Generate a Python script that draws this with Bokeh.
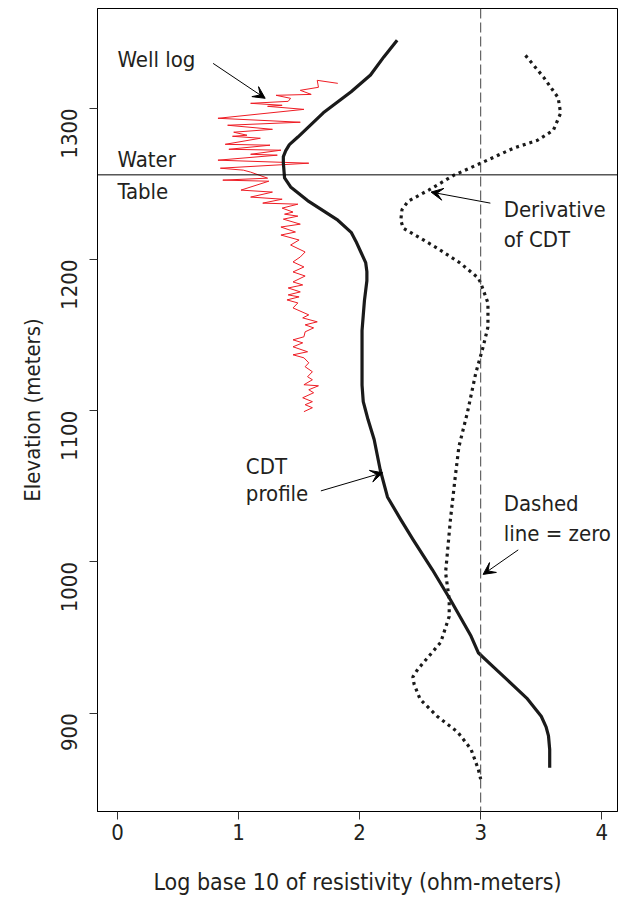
from bokeh.plotting import figure
from bokeh.models import Span, Arrow, VeeHead, Range1d, FixedTicker, ColumnDataSource
from bokeh.core.properties import value
from bokeh.embed import file_html
from bokeh.resources import INLINE
import math

FONT = "DejaVu Sans Condensed"
TXT = "#231f20"

# CDT profile (log10 resistivity vs elevation)
cdt_res = [2.31, 2.20, 2.09, 1.93, 1.70, 1.49, 1.42, 1.39, 1.37, 1.37, 1.38, 1.43,
           1.57, 1.82, 1.93, 1.97, 2.01, 2.05, 2.06, 2.06, 2.04, 2.03, 2.02, 2.02,
           2.03, 2.05, 2.07, 2.12, 2.17, 2.23, 2.34, 2.44, 2.60, 2.75, 2.92, 2.98,
           3.10, 3.22, 3.38, 3.50, 3.54, 3.56, 3.57, 3.57]
cdt_elev = [1345, 1334, 1322, 1311, 1297, 1281, 1276, 1272, 1268, 1264, 1254, 1248,
            1239, 1226, 1218, 1212, 1205, 1198, 1192, 1186, 1173, 1163, 1153, 1117,
            1106, 1100, 1094, 1081, 1061, 1043, 1028, 1015, 995, 975, 951, 940,
            931, 922, 910, 898, 891, 885, 876, 864]

# Derivative of CDT (dotted)
der_val = [3.37, 3.52, 3.64, 3.66, 3.60, 3.47, 3.27, 3.00, 2.78, 2.57, 2.40, 2.35, 2.34,
           2.36, 2.64, 2.83, 2.98, 3.00, 3.06, 3.06, 3.02, 2.96, 2.89, 2.82, 2.79,
           2.75, 2.71, 2.74, 2.74, 2.67, 2.48, 2.44, 2.45, 2.50, 2.64, 2.81, 2.92, 2.98, 3.00]
der_elev = [1335, 1320.5, 1307, 1296.7, 1285.5, 1278.9, 1273.6, 1263.7, 1255.8, 1245.9,
            1238.5, 1233, 1226, 1220.8, 1207.6, 1197.7, 1187.8, 1184.5, 1171.3, 1155.4,
            1142.2, 1125.1, 1098.7, 1076.2, 1056.4, 1028, 993, 975.2, 964, 946.9, 929,
            924, 919.2, 909.2, 898, 887.5, 876.2, 863, 856.4]

# Well log (red)
well_res = [1.82, 1.65, 1.66, 1.51, 1.60, 1.31, 1.43, 1.41, 1.10, 1.36, 1.24, 1.54,
            0.83, 1.51, 0.91, 1.28, 0.96, 1.07, 0.95, 1.18, 0.89, 1.26, 0.92, 1.35,
            1.10, 1.32, 0.83, 1.58, 0.85, 1.04, 1.10, 1.24, 0.87, 1.25, 1.02, 1.28,
            1.10, 1.36, 1.20, 1.49, 1.36, 1.45, 1.38, 1.49, 1.37, 1.51, 1.35, 1.47,
            1.35, 1.50, 1.43, 1.55, 1.51, 1.45, 1.54, 1.45, 1.55, 1.45, 1.53, 1.41,
            1.51, 1.41, 1.50, 1.40, 1.49, 1.45, 1.58, 1.53, 1.65, 1.55, 1.62, 1.55,
            1.54, 1.45, 1.53, 1.45, 1.57, 1.45, 1.54, 1.58, 1.55, 1.61, 1.57, 1.61,
            1.54, 1.66, 1.58, 1.62, 1.53, 1.61, 1.55, 1.61, 1.54]
well_elev = [1316.5, 1318.5, 1313.9, 1311.9, 1309.2, 1308.6, 1306.6, 1304.6, 1303.3,
             1302.0, 1301.3, 1299.3, 1293.4, 1290.8, 1288.8, 1286.1, 1284.2, 1282.2,
             1281.5, 1280.2, 1276.2, 1275.6, 1272.9, 1272.3, 1269.6, 1269.0, 1265.7,
             1263.7, 1260.4, 1259.1, 1257.8, 1253.8, 1252.5, 1251.8, 1245.9, 1244.6,
             1241.3, 1239.9, 1237.3, 1236.6, 1234.0, 1231.4, 1230.0, 1228.7, 1226.7,
             1223.4, 1221.5, 1218.2, 1216.2, 1212.9, 1209.6, 1205.0, 1201.7, 1198.4,
             1195.1, 1191.8, 1189.1, 1185.2, 1183.2, 1181.2, 1178.6, 1176.6, 1175.3,
             1173.3, 1171.3, 1168.0, 1163.4, 1161.4, 1158.8, 1156.8, 1154.8, 1152.2,
             1148.9, 1146.9, 1144.9, 1142.3, 1139.0, 1137.0, 1135.0, 1131.7, 1129.1,
             1125.8, 1122.5, 1120.5, 1117.2, 1116.5, 1113.9, 1111.9, 1108.6, 1106.0,
             1104.0, 1102.0, 1099.4]

water_table = 1256
zero_line = 3

x_ticks = [0, 1, 2, 3, 4]
y_ticks = [900, 1000, 1100, 1200, 1300]

# Annotation labels
lab_text = ["Well log", "Water", "Table", "Derivative", "of CDT", "CDT", "profile", "Dashed", "line = zero"]
lab_x = [0.0, 0.0, 0.0, 3.19, 3.19, 1.06, 1.06, 3.19, 3.19]
lab_y = [1332, 1266, 1245, 1233, 1213, 1063, 1045, 1039, 1019]

# Arrows: start -> end
arr_x0 = [0.79, 3.08, 1.68, 3.31]
arr_y0 = [1329.7, 1237.3, 1047, 1008]
arr_x1 = [1.22, 2.59, 2.19, 3.02]
arr_y1 = [1306.6, 1244.6, 1059, 991.8]

p = figure(width=621, height=897, output_backend="svg", toolbar_location=None,
           x_range=Range1d(-0.165, 4.13), y_range=Range1d(835, 1366),
           min_border_left=97, min_border_right=4, min_border_top=8, min_border_bottom=85)
p.grid.visible = False
p.outline_line_color = "black"
p.outline_line_width = 1
p.background_fill_color = "white"
p.border_fill_color = "white"

p.xaxis.ticker = FixedTicker(ticks=x_ticks)
p.yaxis.ticker = FixedTicker(ticks=y_ticks)
p.xaxis.axis_label = "Log base 10 of resistivity (ohm-meters)"
p.yaxis.axis_label = "Elevation (meters)"
for ax in [p.xaxis[0], p.yaxis[0]]:
    ax.major_label_text_font = FONT
    ax.major_label_text_font_size = "22px"
    ax.major_label_text_color = TXT
    ax.axis_label_text_font = FONT
    ax.axis_label_text_font_style = "normal"
    ax.axis_label_text_color = TXT
    ax.minor_tick_line_color = None
    ax.major_tick_in = 0
    ax.major_tick_out = 8
    ax.major_tick_line_color = "#333333"
    ax.axis_line_color = "black"
p.xaxis.axis_label_text_font_size = "23px"
p.yaxis.axis_label_text_font_size = "22px"
p.yaxis.major_label_orientation = math.pi / 2
p.yaxis.major_label_standoff = 20
p.yaxis.axis_label_standoff = 6
p.xaxis.major_label_standoff = 4
p.xaxis.axis_label_standoff = 26

p.add_layout(Span(location=water_table, dimension="width", line_color="black", line_width=1))
p.add_layout(Span(location=zero_line, dimension="height", line_color="#444444",
                  line_width=1, line_dash="10 4"))

p.line(well_res, well_elev, line_color="#ee1c24", line_width=1)
p.line(cdt_res, cdt_elev, line_color="#1a1a1a", line_width=3.2, line_join="round")
p.line(der_val, der_elev, line_color="#1a1a1a", line_width=3.2, line_dash="3 4", line_cap="butt")

src = ColumnDataSource(dict(x=lab_x, y=lab_y, t=lab_text))
p.text(x="x", y="y", text="t", source=src, text_font=value(FONT), text_font_size="22px",
       text_color=TXT, text_align="left", text_baseline="middle")

for x0, y0, x1, y1 in zip(arr_x0, arr_y0, arr_x1, arr_y1):
    p.add_layout(Arrow(x_start=x0, y_start=y0, x_end=x1, y_end=y1, line_color="black",
                       line_width=1,
                       end=VeeHead(size=12, fill_color="black", line_color="black")))

open("out.html", "w").write(file_html(p, INLINE))
